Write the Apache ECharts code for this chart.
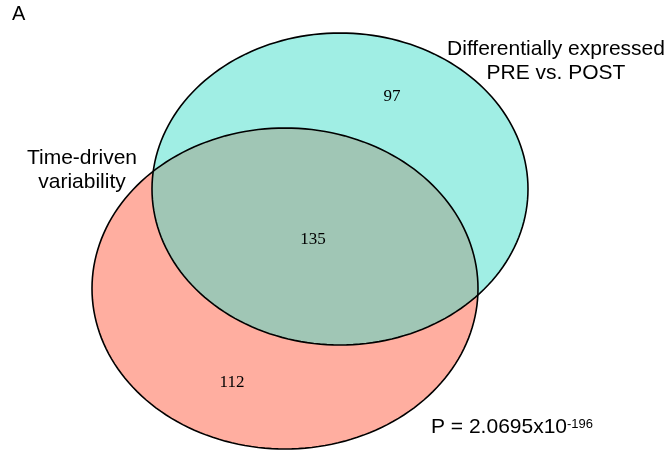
<!DOCTYPE html>
<html>
<head>
<meta charset="utf-8">
<script src="https://cdn.jsdelivr.net/npm/echarts@6/dist/echarts.min.js"></script>
<style>html,body{margin:0;padding:0;background:#fff}#c{width:668px;height:450px}</style>
</head>
<body>
<div id="c"></div>
<script>
// ---- data ----
const panelLabel = 'A';
const setNames = ['Time-driven\nvariability', 'Differentially expressed\nPRE vs. POST'];
const regionNames = ['only time-driven', 'both', 'only PRE vs. POST'];
const regionCounts = [112, 135, 97];
const pMantissa = '2.0695';
const pExponent = '-196';

// ---- layout (pixel-like units on hidden axes) ----
const ellipseLayout = [
  { cx: 285, cy: 288.5, rx: 193, ry: 160.5, fill: '#FFAEA0', opacity: 1 },
  { cx: 340, cy: 189, rx: 188, ry: 156, fill: '#41DDC9', opacity: 0.5 }
];
const countPos = [[232, 383], [313, 240], [392, 97]];
const setLabelPos = [[82, 170], [556, 61]];

const chart = echarts.init(document.getElementById('c'), null, { renderer: 'canvas' });

function ellipsePoints(api, e) {
  const pts = [];
  const n = 180;
  for (let i = 0; i < n; i++) {
    const t = (i / n) * Math.PI * 2;
    pts.push(api.coord([e.cx + e.rx * Math.cos(t), e.cy + e.ry * Math.sin(t)]));
  }
  return pts;
}

const option = {
  animation: false,
  grid: { left: 0, right: 0, top: 0, bottom: 0 },
  xAxis: { type: 'value', min: 0, max: 668, show: false },
  yAxis: { type: 'value', min: 0, max: 450, inverse: true, show: false },
  series: [
    {
      type: 'custom',
      data: [0],
      renderItem: function (params, api) {
        const children = [];
        ellipseLayout.forEach(function (e) {
          children.push({
            type: 'polygon',
            shape: { points: ellipsePoints(api, e) },
            style: { fill: e.fill, opacity: e.opacity, stroke: null }
          });
        });
        ellipseLayout.forEach(function (e) {
          children.push({
            type: 'polygon',
            shape: { points: ellipsePoints(api, e) },
            style: { fill: null, stroke: '#000', lineWidth: 1.6 }
          });
        });
        return { type: 'group', children: children };
      }
    },
    {
      type: 'custom',
      data: regionCounts.map(function (v, i) { return [countPos[i][0], countPos[i][1], v]; }),
      encode: { x: 0, y: 1 },
      renderItem: function (params, api) {
        const p = api.coord([api.value(0), api.value(1)]);
        return {
          type: 'text',
          x: p[0], y: p[1],
          style: {
            text: String(api.value(2)),
            fontFamily: 'Liberation Serif, Times New Roman, serif',
            fontSize: 17,
            fill: '#000',
            align: 'center',
            verticalAlign: 'middle'
          }
        };
      }
    },
    {
      type: 'custom',
      data: setNames.map(function (n, i) { return [setLabelPos[i][0], setLabelPos[i][1], i]; }),
      encode: { x: 0, y: 1 },
      renderItem: function (params, api) {
        const p = api.coord([api.value(0), api.value(1)]);
        return {
          type: 'text',
          x: p[0], y: p[1],
          style: {
            text: setNames[api.value(2)],
            fontFamily: 'Liberation Sans, Arial, sans-serif',
            fontSize: 21,
            lineHeight: 24,
            fill: '#000',
            align: 'center',
            verticalAlign: 'middle'
          }
        };
      }
    }
  ],
  graphic: [
    {
      type: 'text', left: 12, top: 4,
      style: { text: panelLabel, fontFamily: 'Liberation Sans, Arial, sans-serif', fontSize: 20, fill: '#000' }
    },
    {
      type: 'text', left: 431, top: 412,
      style: {
        text: '{b|P = ' + pMantissa + 'x10}{s|' + pExponent + '}',
        rich: {
          b: { fontFamily: 'Liberation Sans, Arial, sans-serif', fontSize: 21, fill: '#000', verticalAlign: 'bottom', lineHeight: 26 },
          s: { fontFamily: 'Liberation Sans, Arial, sans-serif', fontSize: 13, fill: '#000', verticalAlign: 'top', lineHeight: 14, padding: [6, 0, 0, 0] }
        }
      }
    }
  ]
};
chart.setOption(option);
</script>
</body>
</html>
